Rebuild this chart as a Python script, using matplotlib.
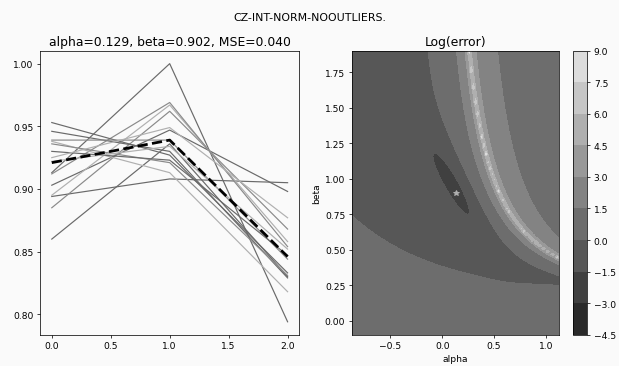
import numpy as np
import matplotlib
matplotlib.use("Agg")
import matplotlib.pyplot as plt
from matplotlib.colors import LinearSegmentedColormap

# left panel: observed series over three steps
steps = [0, 1, 2]
series = [
    [0.913, 1.000, 0.794],
    [0.860, 0.936, 0.830],
    [0.894, 0.908, 0.905],
    [0.885, 0.962, 0.868],
    [0.903, 0.947, 0.898],
    [0.895, 0.967, 0.858],
    [0.912, 0.969, 0.854],
    [0.953, 0.927, 0.833],
    [0.946, 0.930, 0.829],
    [0.939, 0.939, 0.844],
    [0.938, 0.913, 0.818],
    [0.936, 0.921, 0.831],
    [0.930, 0.923, 0.847],
    [0.925, 0.949, 0.877],
    [0.922, 0.934, 0.852],
]
shades = ["#6a6a6a", "#6a6a6a", "#6a6a6a", "#8a8a8a", "#6a6a6a",
          "#b0b0b0", "#8a8a8a", "#6a6a6a", "#6a6a6a", "#8a8a8a",
          "#b0b0b0", "#8a8a8a", "#6a6a6a", "#b0b0b0", "#b0b0b0"]
fit_line = [0.921, 0.939, 0.846]

alpha_best, beta_best, mse_best = 0.129, 0.902, 0.040
levels = np.arange(-4.5, 9.01, 1.5)

# right panel: log error surface on a grid around the optimum
a = np.linspace(alpha_best - 1, alpha_best + 1, 100)
b = np.linspace(beta_best - 1, beta_best + 1, 100)
A, B = np.meshgrid(a, b)

# bowl around the minimum (tilted)
u, v = A - 0.118, B - 0.945
s = 0.63 * u - 0.78 * v
t = 0.78 * u + 0.63 * v
q = 0.105 * ((s / 0.24) ** 2 + (t / 0.056) ** 2)
base = 0.06 + 0.38 * (1 - np.exp(-q))
# rise for small beta
beta_low = 0.185 + 0.196 * np.exp(-1.2 * A) - 0.027
base = base + 1.6 / (1 + np.exp(-(beta_low - B) / 0.03))
# blow-up where alpha*beta hits the unstable value
d = np.abs((A * B - 0.495) / np.maximum(B, 0.05)) + 1e-9
side = (A * B - 0.495) > 0
c = np.where(side, 0.264, 0.5)
L = (np.log(base) + np.log1p(c ** 2 / (d ** 2 + 0.1 * d))
     + 1.8 * side)
L = np.clip(L, None, 8.99)

cmap = LinearSegmentedColormap.from_list("greys", ["#1f1f1f", "#e7e7e7"])

fig = plt.figure(figsize=(9.38, 5.56), dpi=66, facecolor="#fafafa")

ax1 = fig.add_axes([0.0646, 0.0853, 0.419, 0.7738], facecolor="#fafafa")
for ys, col in zip(series, shades):
    ax1.plot(steps, ys, color=col, lw=1.3)
ax1.plot(steps, fit_line, "k--", lw=3)
ax1.set_xticks([0, 0.5, 1, 1.5, 2])
ax1.set_title(f"alpha={alpha_best:.3f}, beta={beta_best:.3f}, MSE={mse_best:.3f}",
              fontsize=13.5)

ax2 = fig.add_axes([0.5682, 0.0853, 0.3354, 0.7738])
cs = ax2.contourf(A, B, L, levels=levels, cmap=cmap)
ax2.plot(alpha_best, beta_best, "*", color="#b0b0b0", ms=6)
ax2.set_title("Log(error)", fontsize=13.5)
ax2.set_xlabel("alpha")
ax2.set_ylabel("beta")

cax = fig.add_axes([0.9262, 0.0853, 0.0226, 0.7738])
fig.colorbar(cs, cax=cax)

fig.suptitle("CZ-INT-NORM-NOOUTLIERS.", y=0.965)
fig.savefig("out.png", dpi=66, facecolor="#fafafa")
